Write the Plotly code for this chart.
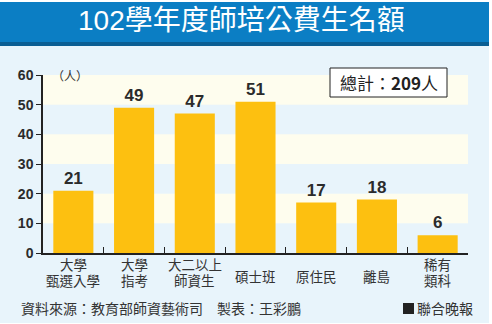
import plotly.graph_objects as go

# 102學年度師培公費生名額 (unit: 人)
categories = ["大學<br>甄選入學", "大學<br>指考", "大二以上<br>師資生", "碩士班", "原住民", "離島", "稀有<br>類科"]
values = [21, 49, 47, 51, 17, 18, 6]
y_ticks = [0, 10, 20, 30, 40, 50, 60]
total = 209

W, H = 492, 324
ML, MR, MT, MB = 43, 24, 75, 71
PW, PH = W - ML - MR, H - MT - MB

BG = "#E8F4FB"
BAND = "#FEFDEE"
BAR = "#FDC010"
TEXT = "#2b2b2b"
FONT = "Noto Sans CJK TC"
LABEL_FONT = "Liberation Sans, Noto Sans CJK TC"


def px_x(px):
    return (px - ML) / PW


def px_y(py):
    return (H - MB - py) / PH


fig = go.Figure()
fig.add_trace(go.Bar(
    x=list(range(len(categories))), y=values, width=0.66,
    marker=dict(color=BAR, line=dict(width=0)),
    text=[str(v) for v in values], textposition="outside", cliponaxis=False,
    textfont=dict(family="Liberation Sans", size=17, color=TEXT, weight="bold"),
    hoverinfo="skip",
))

shapes = []
# background panel and title bar
shapes.append(dict(type="rect", xref="paper", yref="paper", layer="below",
                   x0=px_x(0), x1=px_x(489), y0=px_y(323), y1=px_y(46),
                   fillcolor=BG, line=dict(width=0)))
shapes.append(dict(type="rect", xref="paper", yref="paper", layer="below",
                   x0=px_x(0), x1=px_x(489), y0=px_y(42), y1=px_y(2),
                   fillcolor="#0B7EC4", line=dict(width=0)))
shapes.append(dict(type="rect", xref="paper", yref="paper", layer="below",
                   x0=px_x(0), x1=px_x(489), y0=px_y(46), y1=px_y(42),
                   fillcolor="#0A5E93", line=dict(width=0)))
# alternating horizontal bands
for lo in y_ticks[:-1]:
    if (lo // 10) % 2 == 1:
        shapes.append(dict(type="rect", xref="paper", yref="y", layer="below",
                           x0=0, x1=1, y0=lo, y1=lo + 10,
                           fillcolor=BAND, line=dict(width=0)))
# total box
shapes.append(dict(type="rect", xref="paper", yref="paper",
                   x0=px_x(330), x1=px_x(447), y0=px_y(97), y1=px_y(68),
                   fillcolor="white", line=dict(color="#222", width=1)))
# footer legend square
shapes.append(dict(type="rect", xref="paper", yref="paper",
                   x0=px_x(403), x1=px_x(414), y0=px_y(314), y1=px_y(303),
                   fillcolor="#222", line=dict(width=0)))

annotations = [
    dict(text="102學年度師培公費生名額", x=px_x(241), y=px_y(21), xref="paper", yref="paper",
         showarrow=False, font=dict(family=LABEL_FONT, size=28, color="white"),
         xanchor="center", yanchor="middle"),
    dict(text="（人）", x=px_x(50), y=px_y(75), xref="paper", yref="paper",
         showarrow=False, font=dict(family=FONT, size=12, color="#333"),
         xanchor="left", yanchor="middle"),
    dict(text=f"總計：<b>{total}</b>人", x=px_x(389), y=px_y(82.5),
         xref="paper", yref="paper", showarrow=False,
         font=dict(family=FONT, size=17, color="#222"), xanchor="center", yanchor="middle"),
    dict(text="資料來源：教育部師資藝術司　製表：王彩鵬", x=px_x(19), y=px_y(308),
         xref="paper", yref="paper", showarrow=False,
         font=dict(family=FONT, size=14, color="#333"), xanchor="left", yanchor="middle"),
    dict(text="聯合晚報", x=px_x(415), y=px_y(308), xref="paper", yref="paper",
         showarrow=False, font=dict(family=FONT, size=14, color="#333"),
         xanchor="left", yanchor="middle"),
]
# category labels under the axis, one annotation per line
for i, c in enumerate(categories):
    lines = c.split("<br>")
    ys = [265, 281] if len(lines) == 2 else [277.5]
    for line, py in zip(lines, ys):
        annotations.append(dict(text=line, x=i, y=px_y(py), xref="x", yref="paper",
                                showarrow=False, font=dict(family=LABEL_FONT, size=13.5, color="#333"),
                                xanchor="center", yanchor="middle"))

fig.update_layout(
    width=W, height=H, margin=dict(l=ML, r=MR, t=MT, b=MB),
    paper_bgcolor="white", plot_bgcolor="rgba(0,0,0,0)",
    showlegend=False, shapes=shapes, annotations=annotations,
    xaxis=dict(range=[-0.5, len(categories) - 0.5], tickvals=[i + 0.5 for i in range(len(categories))],
               showticklabels=False, ticks="inside", ticklen=6, tickcolor="#222", tickwidth=1,
               showline=True, linecolor="#222", linewidth=1.5, showgrid=False, zeroline=False),
    yaxis=dict(range=[0, 60], tickvals=y_ticks, ticks="outside", ticklen=5, tickcolor="#222",
               showline=True, linecolor="#222", linewidth=1.5, showgrid=False, zeroline=False,
               tickfont=dict(family="Liberation Sans", size=14, color=TEXT, weight="bold")),
)

fig.write_html("out.html")
